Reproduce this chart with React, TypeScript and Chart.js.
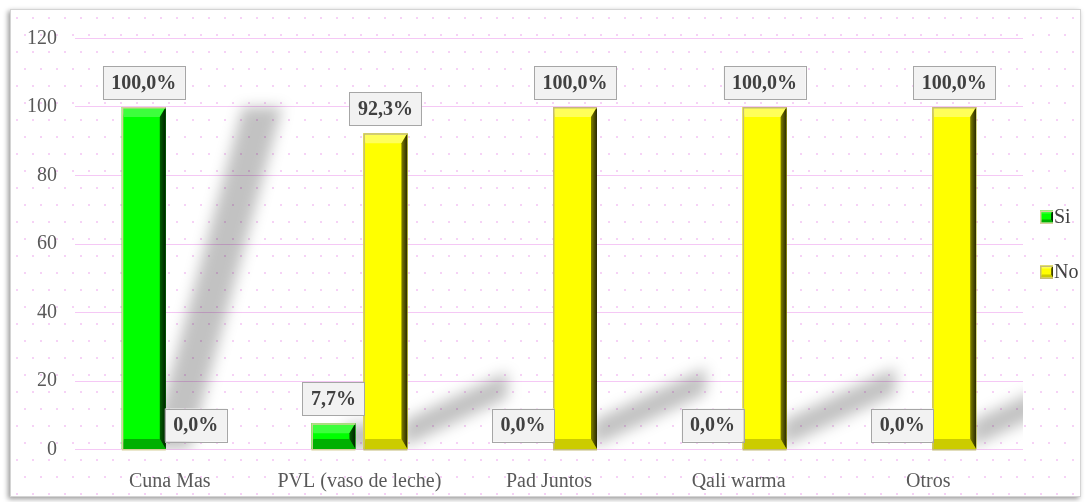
import { useEffect, useRef } from 'react';
import { Chart, registerables } from 'chart.js';

Chart.register(...registerables);

const categories = ['Cuna Mas', 'PVL (vaso de leche)', 'Pad Juntos', 'Qali warma', 'Otros'];
const seriesNames = ['Si', 'No'];
const siValues = [100, 7.7, 0, 0, 0];
const noValues = [0, 92.3, 100, 100, 100];
const yTicks = [0, 20, 40, 60, 80, 100, 120];

const FONT = '"Liberation Serif", "Times New Roman", Times, serif';

type Pal = { main: string; top: string; bottom: string; rightIn: string; rightOut: string; edge: string };
const palettes: Pal[] = [
  { main: '#00ff00', top: '#3cff3c', bottom: '#00b000', rightIn: '#006000', rightOut: '#002000', edge: '#d6cf9c' },
  { main: '#ffff00', top: '#ffff5a', bottom: '#cccc00', rightIn: '#808000', rightOut: '#282800', edge: '#c4bc78' },
];

function poly(ctx: CanvasRenderingContext2D, pts: number[][], fill: any) {
  ctx.beginPath();
  ctx.moveTo(pts[0][0], pts[0][1]);
  for (let i = 1; i < pts.length; i++) ctx.lineTo(pts[i][0], pts[i][1]);
  ctx.closePath();
  ctx.fillStyle = fill;
  ctx.fill();
}

function bevelRect(ctx: CanvasRenderingContext2D, L: number, T: number, R: number, B: number, pal: Pal, s: number, r: number) {
  const h = B - T;
  if (h < 0.5) return;
  const sv = Math.min(s, h / 2.5);
  ctx.save();
  ctx.fillStyle = pal.main;
  ctx.fillRect(L, T, R - L, h);
  poly(ctx, [[L, T], [R, T], [R - r, T + sv], [L + 2, T + sv]], pal.top);
  poly(ctx, [[L, B], [R, B], [R - r, B - sv], [L + 2, B - sv]], pal.bottom);
  const g = ctx.createLinearGradient(R - r, 0, R, 0);
  g.addColorStop(0, pal.rightIn);
  g.addColorStop(1, pal.rightOut);
  poly(ctx, [[R, T], [R, B], [R - r, B - sv], [R - r, T + sv]], g);
  ctx.strokeStyle = pal.edge;
  ctx.lineWidth = 1.5;
  ctx.beginPath();
  ctx.moveTo(R, B + 0.75);
  ctx.lineTo(L + 0.75, B + 0.75);
  ctx.lineTo(L + 0.75, T + 0.75);
  ctx.lineTo(R, T + 0.75);
  ctx.stroke();
  ctx.restore();
}

const framePlugin = {
  id: 'frame',
  beforeDraw(chart: any) {
    const ctx = chart.ctx as CanvasRenderingContext2D;
    ctx.save();
    ctx.fillStyle = '#ffffff';
    ctx.fillRect(0, 0, chart.width, chart.height);
    ctx.shadowColor = 'rgba(0,0,0,0.4)';
    ctx.shadowBlur = 5;
    ctx.shadowOffsetX = -2;
    ctx.shadowOffsetY = 2;
    ctx.fillRect(10, 9, 1071, 488);
    ctx.shadowColor = 'transparent';
    ctx.strokeStyle = '#d4d4d4';
    ctx.lineWidth = 1;
    ctx.strokeRect(10.5, 9.5, 1070, 487);
    // dotted pattern
    ctx.fillStyle = '#f6d2f6';
    let row = 0;
    for (let y = 17; y < 495; y += 17) {
      for (let x = 16 + (row % 2) * 8; x < 1080; x += 16) {
        ctx.fillRect(x, y, 2, 2);
      }
      row++;
    }
    ctx.restore();
  },
};

const shadowPlugin = {
  id: 'barShadows',
  beforeDatasetsDraw(chart: any) {
    const ctx = chart.ctx as CanvasRenderingContext2D;
    const area = chart.chartArea;
    ctx.save();
    ctx.beginPath();
    ctx.rect(area.left, area.top, area.right - area.left, area.bottom - area.top);
    ctx.clip();
    ctx.filter = 'blur(7px)';
    const col = 'rgba(0,0,0,0.24)';
    chart.data.datasets.forEach((_ds: any, di: number) => {
      const meta = chart.getDatasetMeta(di);
      meta.data.forEach((bar: any) => {
        const w = bar.width;
        const h = bar.base - bar.y;
        if (h < 1) return;
        if (di === 0) {
          const c = bar.x + 0.6 * w;
          const sk = 0.27 * h;
          poly(ctx, [
            [c - 0.45 * w, bar.base],
            [c + 0.45 * w, bar.base],
            [c + 0.45 * w + sk, bar.y],
            [c - 0.45 * w + sk, bar.y],
          ], col);
        } else {
          const x0 = bar.x + w / 2 - 4;
          const dx = 0.33 * h;
          const dy = 0.155 * h;
          const th = 0.6 * w;
          poly(ctx, [
            [x0, bar.base - 2],
            [x0, bar.base - 2 - th],
            [x0 + dx, bar.base - 2 - th - dy],
            [x0 + dx, bar.base - 2 - dy],
          ], col);
        }
      });
    });
    ctx.restore();
  },
};

const bevelAndLabelPlugin = {
  id: 'bevelLabels',
  afterDatasetsDraw(chart: any) {
    const ctx = chart.ctx as CanvasRenderingContext2D;
    chart.data.datasets.forEach((_ds: any, di: number) => {
      const meta = chart.getDatasetMeta(di);
      meta.data.forEach((bar: any) => {
        const L = bar.x - bar.width / 2;
        const R = bar.x + bar.width / 2;
        bevelRect(ctx, L, bar.y, R, bar.base, palettes[di], 10, 6);
      });
    });
    ctx.save();
    ctx.font = 'bold 20px ' + FONT;
    ctx.textAlign = 'center';
    ctx.textBaseline = 'middle';
    chart.data.datasets.forEach((ds: any, di: number) => {
      const meta = chart.getDatasetMeta(di);
      meta.data.forEach((bar: any, j: number) => {
        const v = ds.data[j] as number;
        const txt = v.toFixed(1).replace('.', ',') + '%';
        const tw = ctx.measureText(txt).width;
        const bw = tw + 17;
        const bh = 33;
        const bottom = bar.y - 8;
        const left = bar.x - bw / 2;
        ctx.fillStyle = '#f2f2f2';
        ctx.fillRect(left, bottom - bh, bw, bh);
        ctx.strokeStyle = '#a6a6a6';
        ctx.lineWidth = 1;
        ctx.strokeRect(Math.round(left) + 0.5, Math.round(bottom - bh) + 0.5, Math.round(bw), bh);
        ctx.fillStyle = '#404040';
        ctx.fillText(txt, bar.x, bottom - bh / 2 + 1);
      });
    });
    ctx.restore();
  },
};

const legendPlugin = {
  id: 'sideLegend',
  afterDraw(chart: any) {
    const ctx = chart.ctx as CanvasRenderingContext2D;
    const area = chart.chartArea;
    const mid = (area.top + area.bottom) / 2;
    const gap = 55;
    const x = area.right + 17;
    ctx.save();
    ctx.font = '20px ' + FONT;
    ctx.textAlign = 'left';
    ctx.textBaseline = 'middle';
    chart.data.datasets.forEach((ds: any, di: number) => {
      const cy = mid + (di - (chart.data.datasets.length - 1) / 2) * gap;
      bevelRect(ctx, x, cy - 6, x + 13, cy + 6, palettes[di], 3, 2);
      ctx.fillStyle = '#404040';
      ctx.fillText(ds.label, x + 14, cy + 1);
    });
    ctx.restore();
  },
};

export default function App() {
  const ref = useRef<HTMLCanvasElement | null>(null);
  useEffect(() => {
    if (!ref.current) return;
    const chart = new Chart(ref.current, {
      type: 'bar',
      data: {
        labels: categories,
        datasets: [
          { label: seriesNames[0], data: siValues, backgroundColor: palettes[0].main, borderWidth: 0, barPercentage: 0.846, categoryPercentage: 0.5485 },
          { label: seriesNames[1], data: noValues, backgroundColor: palettes[1].main, borderWidth: 0, barPercentage: 0.846, categoryPercentage: 0.5485 },
        ],
      },
      options: {
        responsive: false,
        animation: false,
        devicePixelRatio: 1,
        layout: { padding: { top: 38.5, right: 65, bottom: 0, left: 0 } },
        plugins: { legend: { display: false }, tooltip: { enabled: false } },
        scales: {
          x: {
            grid: { display: false },
            border: { display: false },
            ticks: { font: { family: FONT, size: 20 }, color: '#595959', padding: 12, maxRotation: 0, autoSkip: false },
            afterFit: (s: any) => { s.height = 52.5; },
          },
          y: {
            min: 0,
            max: 120,
            afterBuildTicks: (s: any) => { s.ticks = yTicks.map((v) => ({ value: v })); },
            grid: { color: '#f5c8f5', drawTicks: false, lineWidth: 1 },
            border: { display: false },
            ticks: { font: { family: FONT, size: 20 }, color: '#595959', padding: 18 },
            afterFit: (s: any) => { s.width = 75; },
          },
        },
      },
      plugins: [framePlugin, shadowPlugin, bevelAndLabelPlugin, legendPlugin],
    } as any);
    return () => chart.destroy();
  }, []);
  return (
    <canvas
      ref={ref}
      width={1088}
      height={502}
      style={{ position: 'fixed', left: 0, top: 0, width: 1088, height: 502, display: 'block' }}
    />
  );
}
